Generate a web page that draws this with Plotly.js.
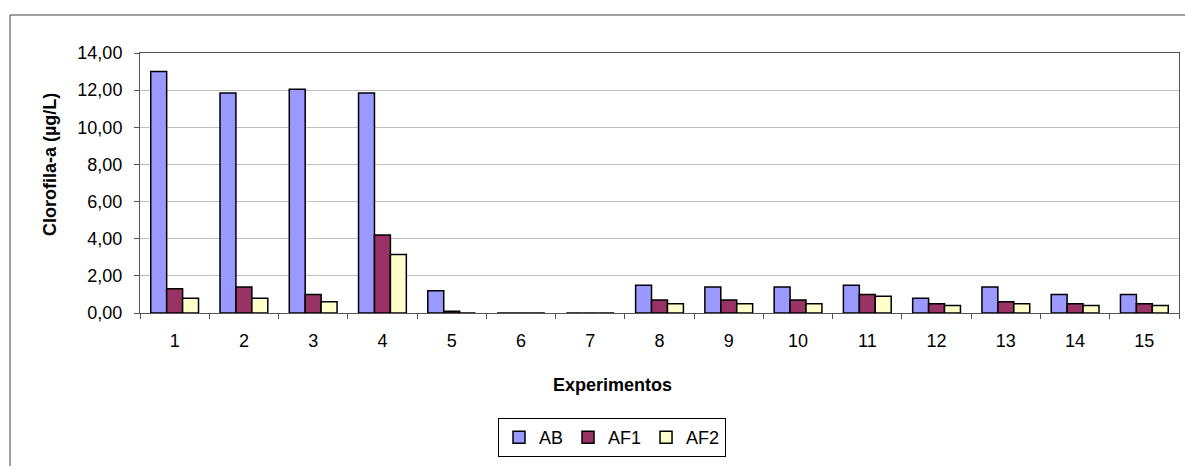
<!DOCTYPE html>
<html>
<head>
<meta charset="utf-8">
<script src="https://cdn.plot.ly/plotly-3.0.1.min.js"></script>
<style>html,body{margin:0;padding:0;background:#fff;}#chart{width:1185px;height:466px;}</style>
</head>
<body>
<div id="chart"></div>
<script>
const experimentos = ["1","2","3","4","5","6","7","8","9","10","11","12","13","14","15"];
const AB  = [13.0, 11.85, 12.05, 11.85, 1.2, 0, 0, 1.5, 1.4, 1.4, 1.5, 0.8, 1.4, 1.0, 1.0];
const AF1 = [1.3, 1.4, 1.0, 4.2, 0.1, 0, 0, 0.7, 0.7, 0.7, 1.0, 0.5, 0.6, 0.5, 0.5];
const AF2 = [0.8, 0.8, 0.6, 3.15, 0, 0, 0, 0.5, 0.5, 0.5, 0.9, 0.4, 0.5, 0.4, 0.4];

const F = "Arial, 'Liberation Sans', sans-serif";
const mk = (name, y, color) => ({
  type: "bar", name: name, x: experimentos, y: y,
  marker: {color: color, line: {color: "#000", width: 1.5}}
});
const data = [mk("AB", AB, "#9999FF"), mk("AF1", AF1, "#993366"), mk("AF2", AF2, "#FFFFCC")];

const L = 140, R = 1179, T = 53, B = 313;
const W = R - L, H = B - T;
const px = x => (x - L) / W;
const py = y => (B - y) / H;

const layout = {
  width: 1185, height: 466,
  margin: {l: L, r: 1185 - R, t: T, b: 466 - B},
  paper_bgcolor: "#fff", plot_bgcolor: "#fff",
  font: {family: F, size: 18, color: "#000"},
  separators: ",.",
  barmode: "group", bargap: 0.31, bargroupgap: 0,
  showlegend: true,
  legend: {orientation: "h", x: px(612), xanchor: "center", y: py(418), yanchor: "top",
           bordercolor: "#000", borderwidth: 1, font: {family: F, size: 18},
           traceorder: "normal", itemwidth: 30},
  xaxis: {type: "category", showline: true, linecolor: "#555", linewidth: 1, mirror: true,
          ticks: "outside", ticklen: 5, tickcolor: "#555", tickson: "boundaries",
          ticklabelstandoff: 11,
          showgrid: false, tickfont: {family: F, size: 18}, fixedrange: true},
  yaxis: {range: [0, 14], dtick: 2, tickformat: ".2f", showline: true, linecolor: "#555",
          linewidth: 1, mirror: true, ticks: "outside", ticklen: 5, tickcolor: "#555",
          ticklabelstandoff: 8,
          showgrid: true, gridcolor: "#C0C0C0", gridwidth: 1, zeroline: false,
          tickfont: {family: F, size: 18}},
  annotations: [
    {text: "<b>Clorofila-a (µg/L)</b>", xref: "paper", yref: "paper", x: px(50), y: py(165),
     xanchor: "center", yanchor: "middle",
     textangle: -90, showarrow: false, font: {family: F, size: 18}},
    {text: "<b>Experimentos</b>", xref: "paper", yref: "paper", x: px(612), y: py(385),
     xanchor: "center", yanchor: "middle",
     showarrow: false, font: {family: F, size: 18}}
  ],
  shapes: [
    {type: "rect", xref: "paper", yref: "paper", x0: px(10), x1: px(1200), y0: py(480), y1: py(15),
     line: {color: "#404040", width: 1}}
  ]
};
Plotly.newPlot("chart", data, layout, {displayModeBar: false, staticPlot: true});
</script>
</body>
</html>
